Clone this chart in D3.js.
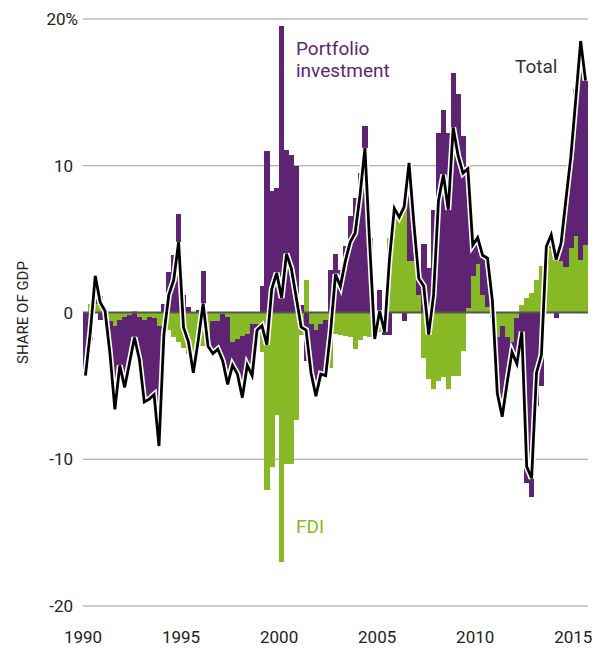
<!DOCTYPE html>
<html>
<head>
<meta charset="utf-8">
<script src="https://cdn.jsdelivr.net/npm/d3@7"></script>
<style>
  body { margin: 0; background: #fff; }
  svg { display: block; font-family: Roboto, "DejaVu Sans", sans-serif; }
</style>
</head>
<body>
<svg id="chart" width="602" height="648"></svg>
<script>
// quarterly series, 1990Q1 .. 2015Q3, share of GDP (%)
const firstYear = 1990;

const fdi = [
  0, 0.6, 0.6, 1.15, 0.2, -0.55, -0.9, -0.5, -0.3, -0.2, 0.1, -0.3, -0.5, -0.3, -0.4, -0.9,
  -1.6, -1.2, -1.7, -2.0, -2.4, -2.8, -3.9, -2.25, -2.25, -2.25, -0.6, -0.6, -0.1, -0.3, -2.0, -1.8,
  -1.6, -1.45, -0.8, -0.8, -2.7, -12.1, -10.5, -7.0, -17.0, -10.3, -10.3, -7.3, -1.5, 2.2, -0.8, -1.2,
  -0.8, -0.5, -3.8, -1.45, -1.5, -1.6, -1.7, -2.5, -1.9, -1.6, -1.7, -1.4, -1.3, 0, 5.1, 6.6,
  6.5, 7.8, 3.5, 3.5, 1.2, -3.1, -4.5, -5.2, -4.65, -4.4, -5.2, -4.3, -4.3, -2.6, 0.3, 2.5,
  3.3, 1.2, 0.4, 0.4, -1.7, -0.9, -1.7, -2.0, -0.35, 0.5, 1.0, 1.3, 2.2, 3.2, 3.3, 4.4,
  3.6, 3.5, 3.1, 4.4, 5.2, 3.6, 4.6
];

const portfolio = [
  -4.2, -1.9, 1.9, -0.5, -0.1, -2.3, -5.7, -3.1, -4.8, -3.2, -1.8, -2.9, -5.6, -5.6, -5.2, -8.2,
  0.6, 2.75, 3.9, 6.7, 1.2, 0.4, -0.2, 0.2, 2.8, 0, -2.2, -1.9, -3.2, -4.6, -1.6, -2.4,
  -4.2, -2.2, -3.5, -0.4, 1.8, 11.0, 8.3, 8.5, 19.5, 11.1, 10.7, 10.0, 0.5, -3.3, -3.3, -4.5,
  -3.4, -3.8, 2.9, 4.0, 2.9, 4.5, 6.6, 7.8, 9.5, 12.7, 5.1, -0.4, 1.5, -1.5, -1.5, 0.5,
  0, -0.6, 6.7, 2.5, 1.1, 4.7, 3.0, 7.0, 12.2, 13.8, 12.2, 16.3, 14.9, 12.0, 9.7, 2.1,
  1.8, 2.6, 3.3, -0.4, -3.8, -6.2, -3.1, -0.7, -3.15, -1.8, -11.6, -12.6, -6.4, -5.0, 1.2, 0.9,
  -0.4, 1.2, 4.6, 6.2, 10.0, 14.9, 11.2
];

const total = [
  -4.3, -1.3, 2.5, 0.7, 0.1, -2.8, -6.6, -3.6, -5.1, -3.4, -1.7, -3.2, -6.1, -5.9, -5.6, -9.1,
  -1.5, 1.2, 2.2, 4.8, -1.0, -2.0, -4.1, -1.9, 0.6, -2.3, -2.8, -2.5, -3.3, -4.9, -3.6, -4.2,
  -5.8, -3.6, -4.3, -1.2, -0.9, -2.2, 1.6, 2.7, 1.0, 4.0, 3.0, 1.0, -1.0, -1.2, -4.1, -5.7,
  -4.2, -4.3, -1.3, 2.6, 1.8, 3.5, 4.8, 5.4, 8.0, 11.2, 4.5, -1.8, 0.1, -1.3, 3.6, 7.1,
  6.5, 7.2, 10.2, 6.0, 2.3, 1.8, -1.5, 1.2, 7.6, 9.4, 7.0, 12.6, 10.7, 9.5, 9.8, 4.6,
  5.1, 3.9, 3.7, 0.8, -5.5, -7.1, -4.8, -2.7, -3.5, -1.3, -10.5, -11.3, -4.1, -2.9, 4.5, 5.3,
  3.6, 4.7, 7.7, 10.6, 14.5, 18.5, 15.8
];

const yearTicks = [1990, 1995, 2000, 2005, 2010, 2015];
const yTicks = [-20, -10, 0, 10, 20];

const colors = { fdi: '#86b925', portfolio: '#5e2473', line: '#000' };

const svg = d3.select('#chart');

const plot = { left: 83, right: 588, top: 19, bottom: 606 };

const x = d3.scaleLinear().domain([firstYear, firstYear + fdi.length / 4]).range([plot.left, plot.right]);
const y = d3.scaleLinear().domain([-20, 20]).range([plot.bottom, plot.top]);

const rows = fdi.map((v, i) => ({ t: firstYear + i / 4, fdi: v, portfolio: portfolio[i], total: total[i] }));

// gridlines
svg.append('g')
    .selectAll('line')
    .data(yTicks.filter(d => d !== 0))
    .join('line')
    .attr('x1', plot.left)
    .attr('x2', plot.right)
    .attr('y1', d => y(d))
    .attr('y2', d => y(d))
    .attr('stroke', '#9a9a9a')
    .attr('stroke-width', 1.2);

// stacked bars, diverging from zero
const series = d3.stack()
    .keys(['fdi', 'portfolio'])
    .offset(d3.stackOffsetDiverging)(rows);

svg.append('g')
    .selectAll('g')
    .data(series)
    .join('g')
    .attr('fill', d => colors[d.key])
    .selectAll('rect')
    .data(d => d)
    .join('rect')
    .attr('shape-rendering', 'crispEdges')
    .attr('x', d => x(d.data.t))
    .attr('width', d => x(d.data.t + 0.25) - x(d.data.t) + 0.3)
    .attr('y', d => y(Math.max(d[0], d[1])))
    .attr('height', d => Math.abs(y(d[0]) - y(d[1])));

// zero line
svg.append('line')
    .attr('x1', plot.left)
    .attr('x2', plot.right)
    .attr('y1', y(0))
    .attr('y2', y(0))
    .attr('stroke', '#555')
    .attr('stroke-width', 2.2);

// total line with white halo
const line = d3.line()
    .x(d => x(d.t + 0.125))
    .y(d => y(d.total));

svg.append('path')
    .datum(rows)
    .attr('d', line)
    .attr('fill', 'none')
    .attr('stroke', '#fff')
    .attr('stroke-width', 6)
    .attr('stroke-linejoin', 'miter');

svg.append('path')
    .datum(rows)
    .attr('d', line)
    .attr('fill', 'none')
    .attr('stroke', colors.line)
    .attr('stroke-width', 2.8)
    .attr('stroke-linejoin', 'miter');

// y axis labels
svg.append('g')
    .selectAll('text')
    .data(yTicks)
    .join('text')
    .attr('x', d => d === 20 ? 78 : 73)
    .attr('y', d => y(d) + 6)
    .attr('text-anchor', 'end')
    .attr('font-size', 17)
    .attr('fill', '#222')
    .text(d => d === 20 ? '20%' : d);

// x axis labels
svg.append('g')
    .selectAll('text')
    .data(yearTicks)
    .join('text')
    .attr('x', d => x(d))
    .attr('y', 643)
    .attr('text-anchor', 'middle')
    .attr('font-size', 17)
    .attr('fill', '#222')
    .text(d => d);

// axis title
svg.append('text')
    .attr('transform', `translate(28,${y(0)}) rotate(-90)`)
    .attr('text-anchor', 'middle')
    .attr('font-size', 15)
    .attr('fill', '#222')
    .text('SHARE OF GDP');

// series labels
svg.append('text')
    .attr('x', 296)
    .attr('y', 55)
    .attr('font-size', 19)
    .attr('fill', colors.portfolio)
    .selectAll('tspan')
    .data(['Portfolio', 'investment'])
    .join('tspan')
    .attr('x', 296)
    .attr('dy', (d, i) => i ? 22 : 0)
    .text(d => d);

svg.append('text')
    .attr('x', 296)
    .attr('y', 533)
    .attr('font-size', 19)
    .attr('fill', colors.fdi)
    .text('FDI');

svg.append('text')
    .attr('x', 515)
    .attr('y', 73)
    .attr('font-size', 19)
    .attr('fill', '#333')
    .text('Total');
</script>
</body>
</html>
